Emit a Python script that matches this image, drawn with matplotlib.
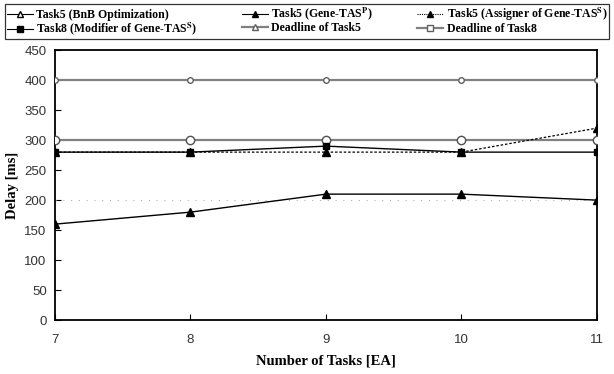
import numpy as np
import matplotlib
matplotlib.use('Agg')
from matplotlib import pyplot as plt
from matplotlib.lines import Line2D

plt.rcParams['mathtext.fontset'] = 'stix'

tasks = [7, 8, 9, 10, 11]
bnb = [200, 200, 200, 200, 200]
gene_p = [160, 180, 210, 210, 200]
assigner = [280, 280, 280, 280, 320]
modifier = [280, 280, 290, 280, 280]
deadline5 = [400, 400, 400, 400, 400]
deadline8 = [300, 300, 300, 300, 300]

labels = ['Task5 (BnB Optimization)',
          r'Task5 (Gene-TAS$^{\mathbf{P}}$)',
          r'Task5 (Assigner of Gene-TAS$^{\mathbf{S}}$)',
          r'Task8 (Modifier of Gene-TAS$^{\mathbf{S}}$)',
          'Deadline of Task5',
          'Deadline of Task8']

fig = plt.figure(figsize=(6.14, 3.74), dpi=100)
ax = fig.add_axes([0.0896, 0.144, 0.8826, 0.722])

ax.plot(tasks, bnb, color='#b0b0b0', lw=0.8, ls=(0, (1, 6)))
ax.plot(tasks, deadline5, color='#808080', lw=1.6, marker='o', ms=4,
        mfc='white', mec='#606060', zorder=3)
ax.plot(tasks, deadline8, color='#808080', lw=1.6, marker='o', ms=6,
        mfc='white', mec='#505050', zorder=3)
ax.plot(tasks, modifier, color='black', lw=1.0, marker='s', ms=5, zorder=4)
ax.plot(tasks, assigner, color='black', lw=0.9, ls=(0, (2, 1.5)),
        marker='^', ms=6, zorder=5)
ax.plot(tasks, gene_p, color='black', lw=1.0, marker='^', ms=6, zorder=5)

ax.set_xlim(7, 11)
ax.set_ylim(0, 450)
ax.set_xticks(tasks)
ax.set_yticks(np.arange(0, 451, 50))
ax.tick_params(direction='in', length=4, labelsize=9.5)
ax.tick_params(axis='x', pad=10)
ax.tick_params(axis='y', pad=6)
for lab in ax.get_xticklabels() + ax.get_yticklabels():
    lab.set_fontfamily('Liberation Sans')
    lab.set_color('#333333')
for sp in ax.spines.values():
    sp.set_linewidth(1.3)

ax.set_xlabel('Number of Tasks [EA]', fontfamily='Liberation Serif',
              fontweight='bold', fontsize=10.5, labelpad=6)
ax.set_ylabel('Delay [ms]', fontfamily='Liberation Serif',
              fontweight='bold', fontsize=10.5, labelpad=4)

handles = [
    Line2D([], [], color='black', lw=0.8, marker='^', ms=5, mfc='white', mec='black'),
    Line2D([], [], color='black', lw=0.8, marker='^', ms=5),
    Line2D([], [], color='black', lw=0.8, ls=(0, (1, 1)), marker='^', ms=5),
    Line2D([], [], color='black', lw=0.8, marker='s', ms=4),
    Line2D([], [], color='#808080', lw=1.6, marker='^', ms=5, mfc='white', mec='#606060'),
    Line2D([], [], color='#808080', lw=1.6, marker='s', ms=5, mfc='white', mec='#606060'),
]
order = [0, 3, 1, 4, 2, 5]
leg = fig.legend([handles[i] for i in order], [labels[i] for i in order],
                 loc='upper left', bbox_to_anchor=(0.005, 0.895, 0.99, 0.1),
                 mode='expand', ncol=3, fancybox=False, edgecolor='black',
                 borderpad=0.1, borderaxespad=0.2, handlelength=2.2,
                 handletextpad=0.3, labelspacing=0.0, columnspacing=0.8,
                 prop={'family': 'Liberation Serif', 'weight': 'bold', 'size': 8.5})
leg.get_frame().set_linewidth(0.9)

fig.savefig('out.png', dpi=100)
